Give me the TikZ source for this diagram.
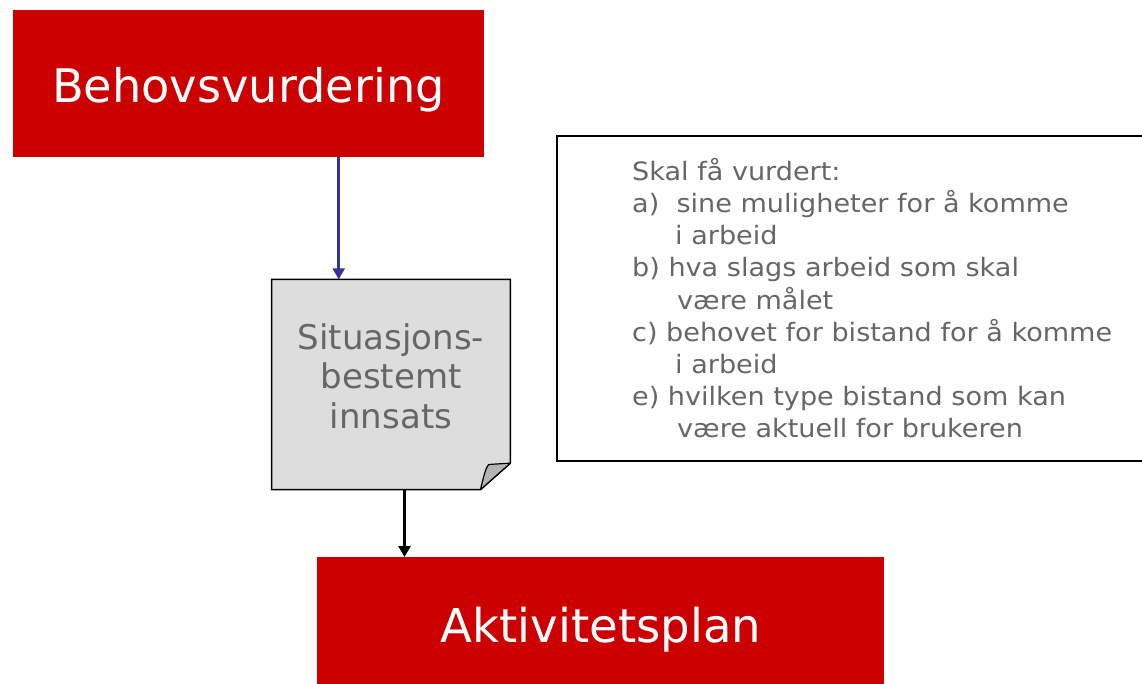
\documentclass[tikz,border=0pt]{standalone}
\usepackage{fontspec}
\setmainfont{DejaVu Sans}
\newfontfamily\behfont{DejaVu Sans}
\newfontfamily\boxfont[FakeStretch=1.07]{DejaVu Sans}
\usetikzlibrary{arrows.meta}
\definecolor{nred}{HTML}{CC0000}
\definecolor{nblue}{HTML}{333399}
\definecolor{docgray}{HTML}{DDDDDD}
\definecolor{foldgray}{HTML}{B4B4B4}
\definecolor{txtgray}{HTML}{666666}
\begin{document}
\begin{tikzpicture}[x=1pt,y=-1pt,
  redbox/.style={fill=nred,draw=none,inner sep=0pt,anchor=north west},
  redtext/.style={text=white,inner sep=0pt,anchor=base},
  doctext/.style={text=txtgray,inner sep=0pt,anchor=base,font=\behfont\fontsize{34}{39.5}\selectfont},
  boxline/.style={text=txtgray,inner sep=0pt,anchor=base west,font=\boxfont\fontsize{25.3}{32}\selectfont},
  bluearrow/.style={draw=nblue,line width=3.5pt,-{Triangle[length=11pt,width=12pt]}},
  blackarrow/.style={draw=black,line width=3.5pt,-{Triangle[length=11pt,width=12pt]}},
  docline/.style={draw=black,line width=1.5pt,fill=docgray,line join=miter}
]
\useasboundingbox (0,0) rectangle (1142,684);

% red boxes
\node[redbox,minimum width=471pt,minimum height=146.5pt] (beh) at (12.3,10.3) {};
\node[redtext,font=\behfont\fontsize{46.3}{50}\selectfont] (behT) at (248.5,103) {Behovsvurdering};

\node[redbox,minimum width=567pt,minimum height=127pt] (akt) at (317,557) {};
\node[redtext,font=\behfont\fontsize{46.6}{50}\selectfont] (aktT) at (601,642.3) {Aktivitetsplan};

% document shape
\node[draw=none,inner sep=0pt,minimum width=238.3pt,minimum height=210pt,anchor=north west] (doc) at (271.7,279.3) {};
\coordinate (foldA) at ([yshift=26.6pt]doc.south east);
\coordinate (foldB) at ([xshift=-30pt]doc.south east);
\coordinate (foldTip) at (488.7,464.5);
\draw[docline] (doc.north west) -- (doc.north east) -- (foldA) -- (foldB) -- (doc.south west) -- cycle;
\draw[draw=black,line width=1.2pt,fill=foldgray,line join=round] (foldB) .. controls (483.5,478) and (485,469) .. (foldTip) -- (foldA) -- cycle;
\node[doctext] (d1) at (391,349) {Situasjons-};
\node[doctext] (d2) at (391,388.5) {bestemt};
\node[doctext] (d3) at (391,428) {innsats};

% text frame (right side runs off the page)
\coordinate (tfA) at (1146,135.7);
\coordinate (tfB) at (556.8,135.7);
\coordinate (tfC) at (556.8,460.7);
\coordinate (tfD) at (1146,460.7);
\draw[line width=2pt] (tfA) -- (tfB) -- (tfC) -- (tfD);

\node[boxline] (t1) at (632,181) {Skal få vurdert:};
\node[boxline] (t2) at (632,213) {a)\ \ sine muligheter for å komme};
\node[boxline] (t3) at (675,245) {i arbeid};
\node[boxline] (t4) at (632,277) {b) hva slags arbeid som skal};
\node[boxline] (t5) at (677,309) {være målet};
\node[boxline] (t6) at (632,341) {c) behovet for bistand for å komme};
\node[boxline] (t7) at (675,373) {i arbeid};
\node[boxline] (t8) at (632,405) {e) hvilken type bistand som kan};
\node[boxline] (t9) at (677,437) {være aktuell for brukeren};

% connectors
\coordinate (bx) at (338.7,0);
\coordinate (kx) at (404.5,0);
\draw[bluearrow] (beh.south -| bx) -- (doc.north -| bx);
\draw[blackarrow] (doc.south -| kx) -- (akt.north -| kx);
\end{tikzpicture}
\end{document}
